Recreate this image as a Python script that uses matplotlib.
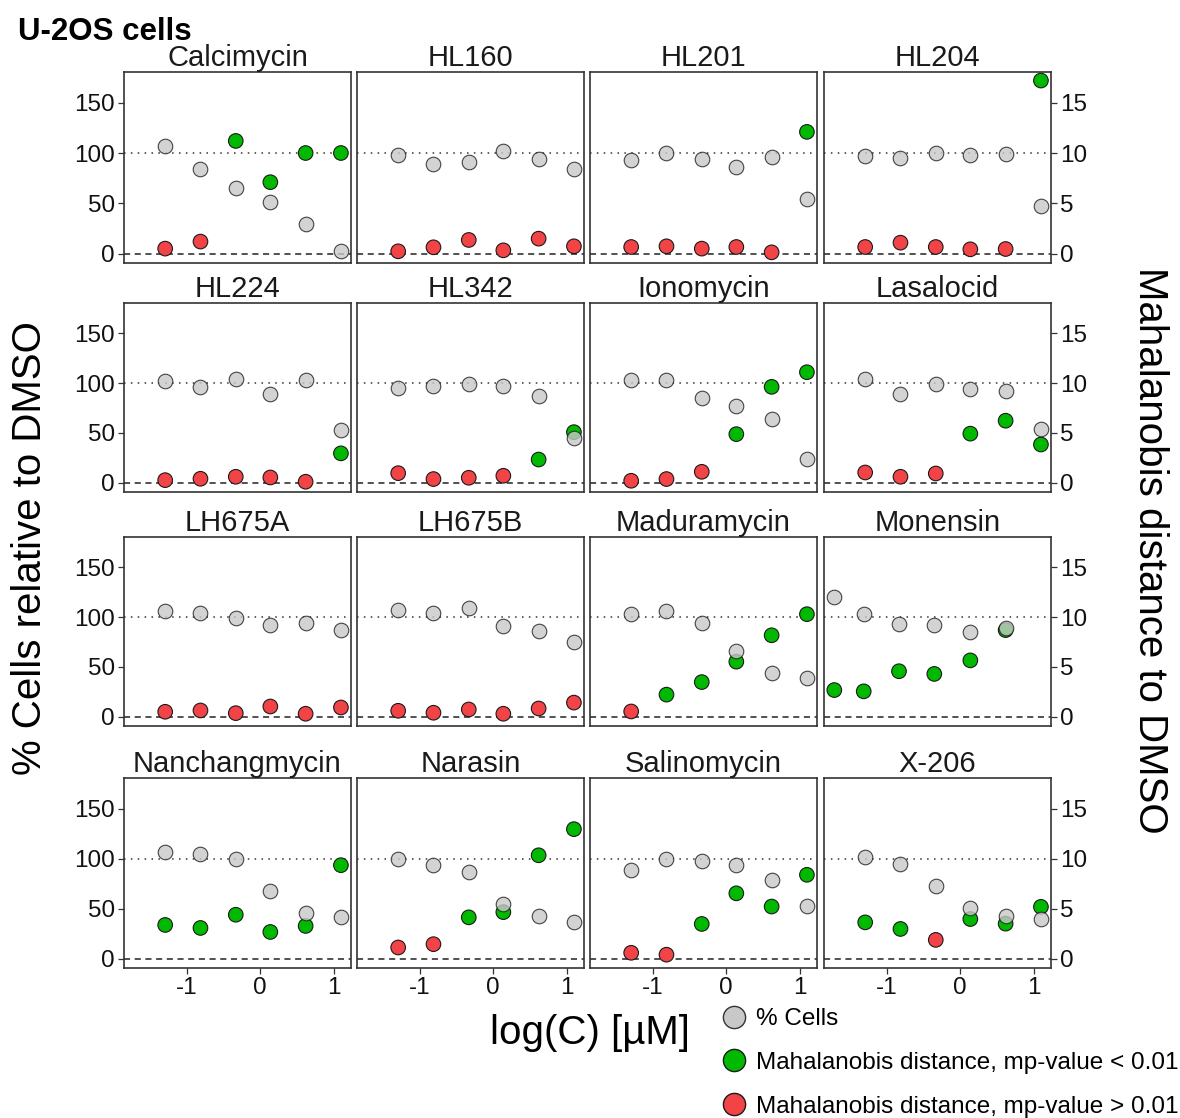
import matplotlib
matplotlib.use("Agg")
import matplotlib.pyplot as plt
from matplotlib.lines import Line2D

plt.rcParams['font.family'] = ['Liberation Sans', 'DejaVu Sans']

# log10 concentration [uM]
log_c = [-1.29, -0.81, -0.33, 0.14, 0.62, 1.10]
log_c_monensin = [-1.71, -1.31, -0.83, -0.35, 0.14, 0.62]

compounds = ['Calcimycin', 'HL160', 'HL201', 'HL204',
             'HL224', 'HL342', 'Ionomycin', 'Lasalocid',
             'LH675A', 'LH675B', 'Maduramycin', 'Monensin',
             'Nanchangmycin', 'Narasin', 'Salinomycin', 'X-206']

# % cells relative to DMSO
cells = [
    [107, 84, 65, 51, 29, 2.6],
    [98, 89, 90.7, 101.7, 94.4, 84.4],
    [93, 100, 94.4, 86.4, 95.7, 54.3],
    [97.4, 94.7, 99.7, 97.7, 99.3, 47.7],
    [101.7, 96, 104.6, 89, 103, 53],
    [95, 97.3, 99, 97.3, 87.4, 44.5],
    [103, 102.7, 84.7, 77, 64, 23.6],
    [104.3, 88.7, 99.3, 94, 92, 53.6],
    [106.3, 104.3, 99, 92, 93.7, 87],
    [107, 104, 109, 91.4, 85.8, 75],
    [103.6, 106.3, 94.4, 65.9, 44, 39],
    [120.5, 103.6, 93, 92.4, 85.4, 88.7],
    [106.9, 104.3, 99.7, 67.3, 45.9, 41.3],
    [99.3, 93.4, 86.5, 55.1, 42.2, 36.3],
    [88.4, 100, 97.7, 93.4, 78.2, 52.5],
    [102, 95, 72.6, 50.2, 42.2, 39.6],
]

# Mahalanobis distance to DMSO
mahal = [
    [0.5, 1.2, 11.2, 7.1, 10.0, 10.0],
    [0.23, 0.63, 1.36, 0.33, 1.49, 0.73],
    [0.66, 0.73, 0.5, 0.66, 0.13, 12.1],
    [0.66, 1.09, 0.66, 0.43, 0.46, 17.2],
    [0.26, 0.4, 0.6, 0.53, 0.1, 2.95],
    [0.96, 0.37, 0.5, 0.7, 2.33, 5.08],
    [0.2, 0.37, 1.1, 4.88, 9.63, 11.1],
    [1.03, 0.6, 0.93, 4.93, 6.23, 3.84],
    [0.5, 0.63, 0.36, 1.03, 0.3, 0.93],
    [0.6, 0.4, 0.73, 0.3, 0.83, 1.42],
    [0.53, 2.22, 3.48, 5.53, 8.18, 10.3],
    [2.68, 2.55, 4.57, 4.3, 5.66, 8.7],
    [3.37, 3.07, 4.39, 2.67, 3.27, 9.34],
    [1.12, 1.45, 4.13, 4.65, 10.33, 12.94],
    [0.59, 0.4, 3.47, 6.53, 5.21, 8.38],
    [3.63, 2.97, 1.88, 3.96, 3.5, 5.18],
]

# mp-value < 0.01 ?
signif = [
    [0, 0, 1, 1, 1, 1],
    [0, 0, 0, 0, 0, 0],
    [0, 0, 0, 0, 0, 1],
    [0, 0, 0, 0, 0, 1],
    [0, 0, 0, 0, 0, 1],
    [0, 0, 0, 0, 1, 1],
    [0, 0, 0, 1, 1, 1],
    [0, 0, 0, 1, 1, 1],
    [0, 0, 0, 0, 0, 0],
    [0, 0, 0, 0, 0, 0],
    [0, 1, 1, 1, 1, 1],
    [1, 1, 1, 1, 1, 1],
    [1, 1, 1, 1, 1, 1],
    [0, 0, 1, 1, 1, 1],
    [0, 0, 1, 1, 1, 1],
    [1, 1, 0, 1, 1, 1],
]

GRAY = '#c8c8c8'
GREEN = '#00b900'
RED = '#f24346'
MD_SCALE = 10  # 10 on the right axis == 100 % on the left axis

W, H = 1180, 1118
fig = plt.figure(figsize=(W / 100, H / 100), dpi=100)

col_left = [124, 357, 590, 824]
panel_w = 227
row_top = [72, 303, 537, 778]
row_bot = [263, 492, 726, 968]

for i, name in enumerate(compounds):
    r, c = divmod(i, 4)
    ax = fig.add_axes([col_left[c] / W, 1 - row_bot[r] / H,
                       panel_w / W, (row_bot[r] - row_top[r]) / H])
    x = log_c_monensin if name == 'Monensin' else log_c

    ax.axhline(100, color='#333333', lw=1.1, ls=(0, (1, 3.5)), zorder=1)
    ax.axhline(0, color='#222222', lw=1.1, ls=(0, (4, 3)), zorder=1)

    md_col = [GREEN if s else RED for s in signif[i]]
    md_y = [m * MD_SCALE for m in mahal[i]]
    ax.scatter(x, md_y, s=110, c=md_col, edgecolors='#1a1a1a',
               linewidths=0.8, zorder=3)
    ax.scatter(x, cells[i], s=110, c=GRAY, edgecolors='#1a1a1a',
               linewidths=0.8, alpha=0.8, zorder=4)

    ax.set_xlim(-1.85, 1.237)
    ax.set_ylim(-9.3, 180.5)
    ax.set_title(name, fontsize=21, pad=2, color='#1a1a1a')

    for sp in ax.spines.values():
        sp.set_color('#333333')
        sp.set_linewidth(1.2)

    ax.tick_params(colors='#333333', labelcolor='#111111', labelsize=17.5,
                   length=4, width=0.9, pad=2.5)
    if c == 0:
        ax.set_yticks([0, 50, 100, 150])
    else:
        ax.set_yticks([])
    if r == 3:
        ax.set_xticks([-1, 0, 1])
        ax.set_xticklabels(['-1', '0', '1'])
    else:
        ax.set_xticks([])
    if c == 3:
        sec = ax.secondary_yaxis('right', functions=(lambda v: v / MD_SCALE,
                                                     lambda v: v * MD_SCALE))
        sec.set_yticks([0, 5, 10, 15])
        sec.tick_params(colors='#333333', labelcolor='#111111',
                        labelsize=17.5, length=4, width=0.9, pad=2.5)
        sec.spines['right'].set_visible(False)

fig.text(18 / W, 1 - 40 / H, 'U-2OS cells', fontsize=22.5, fontweight='bold',
         ha='left', va='baseline')
fig.text(30 / W, 1 - 548 / H, '% Cells relative to DMSO', fontsize=29,
         rotation=90, ha='center', va='center')
fig.text(1150 / W, 1 - 550 / H, 'Mahalanobis distance to DMSO', fontsize=29,
         rotation=270, ha='center', va='center')
fig.text(590 / W, 1 - 1033 / H, 'log(C) [µM]', fontsize=29,
         ha='center', va='center')

handles = [
    Line2D([], [], ls='none', marker='o', ms=16, mfc=GRAY, mec='#333333', mew=1),
    Line2D([], [], ls='none', marker='o', ms=16, mfc=GREEN, mec='#1a1a1a', mew=1),
    Line2D([], [], ls='none', marker='o', ms=16, mfc=RED, mec='#1a1a1a', mew=1),
]
labels = ['% Cells', 'Mahalanobis distance, mp-value < 0.01',
          'Mahalanobis distance, mp-value > 0.01']
fig.legend(handles, labels, loc='upper left',
           bbox_to_anchor=(715 / W, 1 - 1008 / H), frameon=False,
           fontsize=17.5, handletextpad=0.1, labelspacing=0.9,
           borderaxespad=0, borderpad=0, handlelength=1.6)

fig.savefig('out.png', dpi=100)
